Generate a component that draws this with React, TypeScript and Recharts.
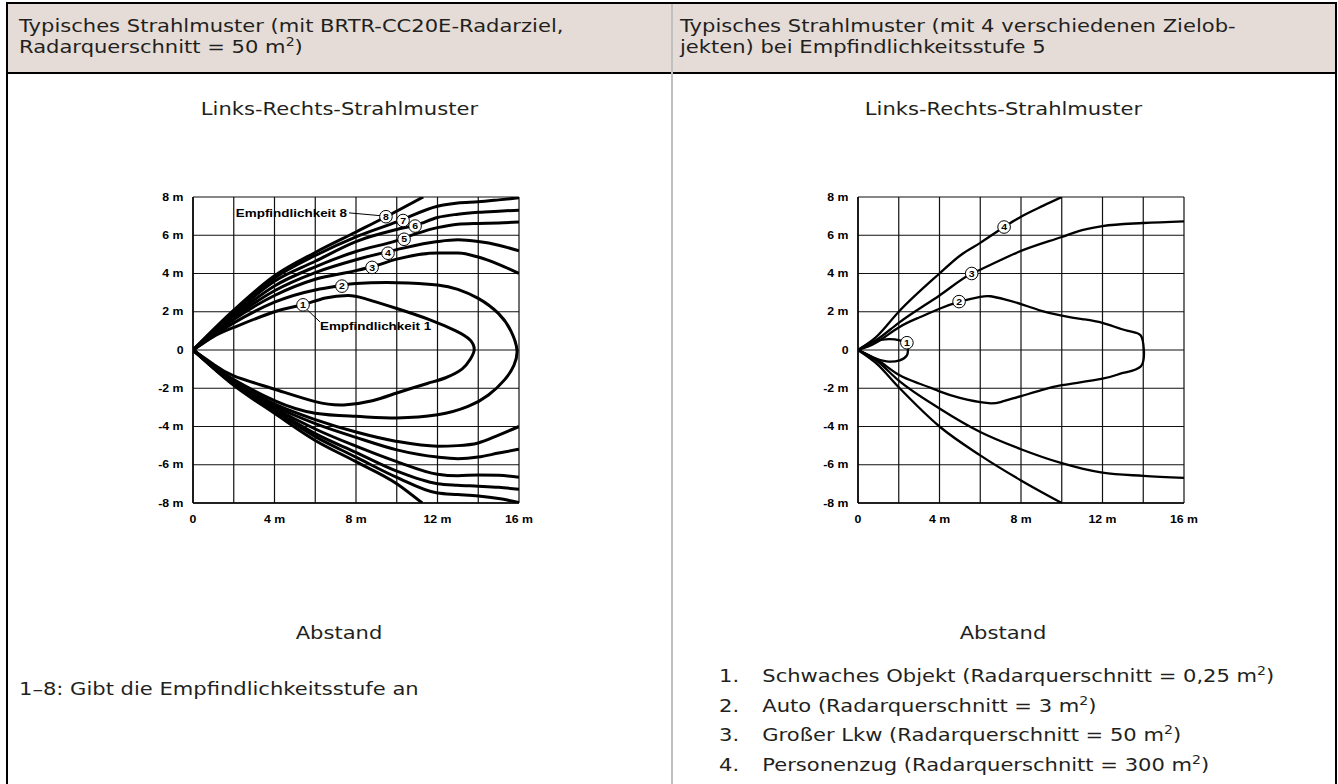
import React from 'react';
import { LineChart, Line, XAxis, YAxis, CartesianGrid, ReferenceDot, ReferenceLine } from 'recharts';

type Pt = { x: number; y: number };
type Mark = { n: number; x: number; y: number };

const xTicks = [0, 2, 4, 6, 8, 10, 12, 14, 16];
const yTicks = [-8, -6, -4, -2, 0, 2, 4, 6, 8];

// left chart: sensitivity levels 1-8 (levels 1 and 2 are closed loops)
const level1: Pt[] = [
  { x: 0, y: 0 }, { x: 1, y: 0.7 }, { x: 2, y: 1.18 }, { x: 4, y: 2.0 }, { x: 5.4, y: 2.37 },
  { x: 6.5, y: 2.72 }, { x: 7.6, y: 2.85 }, { x: 8.4, y: 2.7 }, { x: 10, y: 2.17 },
  { x: 11.6, y: 1.59 }, { x: 12.9, y: 1.0 }, { x: 13.6, y: 0.52 }, { x: 13.8, y: 0 },
  { x: 13.6, y: -0.5 }, { x: 13.2, y: -1.0 }, { x: 12.4, y: -1.45 }, { x: 11.5, y: -1.75 },
  { x: 10, y: -2.25 }, { x: 8.8, y: -2.65 }, { x: 7.4, y: -2.87 }, { x: 6, y: -2.7 },
  { x: 4, y: -2.05 }, { x: 2, y: -1.35 }, { x: 1, y: -0.75 }, { x: 0, y: 0 },
];
const level2: Pt[] = [
  { x: 0, y: 0 }, { x: 1, y: 0.75 }, { x: 2, y: 1.42 }, { x: 4, y: 2.5 }, { x: 6, y: 3.14 },
  { x: 7.3, y: 3.38 }, { x: 8, y: 3.48 }, { x: 10, y: 3.52 }, { x: 12, y: 3.4 }, { x: 13, y: 3.17 },
  { x: 14, y: 2.7 }, { x: 15, y: 1.9 }, { x: 15.6, y: 1.0 }, { x: 15.9, y: 0 }, { x: 15.75, y: -0.8 },
  { x: 15.3, y: -1.55 }, { x: 14.5, y: -2.35 }, { x: 13.5, y: -2.95 }, { x: 12, y: -3.39 },
  { x: 10, y: -3.55 }, { x: 8, y: -3.47 }, { x: 6, y: -3.31 }, { x: 4, y: -2.65 }, { x: 2, y: -1.55 },
  { x: 1, y: -0.85 }, { x: 0, y: 0 },
];
const level3Up: Pt[] = [
  { x: 0, y: 0 }, { x: 2, y: 1.6 }, { x: 4, y: 2.85 }, { x: 6, y: 3.7 }, { x: 8, y: 4.15 }, { x: 9, y: 4.42 },
  { x: 10, y: 4.75 }, { x: 12, y: 5.07 }, { x: 13, y: 5.07 }, { x: 14, y: 4.86 }, { x: 15, y: 4.48 }, { x: 16, y: 4.0 },
];
const level3Down: Pt[] = [
  { x: 0, y: 0 }, { x: 2, y: -1.6 }, { x: 4, y: -2.82 }, { x: 6, y: -3.64 }, { x: 8, y: -4.29 }, { x: 10, y: -4.78 },
  { x: 12, y: -5.03 }, { x: 13, y: -5.0 }, { x: 14, y: -4.86 }, { x: 15, y: -4.45 }, { x: 16, y: -4.0 },
];
const level4Up: Pt[] = [
  { x: 0, y: 0 }, { x: 2, y: 1.7 }, { x: 4, y: 3.1 }, { x: 6, y: 4.05 }, { x: 8, y: 4.72 }, { x: 10, y: 5.25 },
  { x: 12, y: 5.67 }, { x: 13, y: 5.76 }, { x: 14, y: 5.67 }, { x: 15, y: 5.48 }, { x: 16, y: 5.18 },
];
const level4Down: Pt[] = [
  { x: 0, y: 0 }, { x: 2, y: -1.65 }, { x: 4, y: -2.93 }, { x: 6, y: -3.85 }, { x: 8, y: -4.57 }, { x: 10, y: -5.22 },
  { x: 12, y: -5.6 }, { x: 13, y: -5.68 }, { x: 14, y: -5.6 }, { x: 15, y: -5.39 }, { x: 16, y: -5.19 },
];
const level5Up: Pt[] = [
  { x: 0, y: 0 }, { x: 2, y: 1.8 }, { x: 4, y: 3.35 }, { x: 6, y: 4.35 }, { x: 8, y: 5.15 }, { x: 10, y: 5.72 },
  { x: 11, y: 6.1 }, { x: 12, y: 6.4 }, { x: 13, y: 6.58 }, { x: 14, y: 6.62 }, { x: 15, y: 6.64 }, { x: 16, y: 6.69 },
];
const level5Down: Pt[] = [
  { x: 0, y: 0 }, { x: 2, y: -1.7 }, { x: 4, y: -3.03 }, { x: 6, y: -4.13 }, { x: 8, y: -5.03 }, { x: 10, y: -5.84 },
  { x: 12, y: -6.5 }, { x: 13, y: -6.58 }, { x: 14, y: -6.53 }, { x: 15, y: -6.55 }, { x: 16, y: -6.66 },
];
const level6Up: Pt[] = [
  { x: 0, y: 0 }, { x: 2, y: 1.9 }, { x: 4, y: 3.6 }, { x: 6, y: 4.64 }, { x: 8, y: 5.67 }, { x: 10, y: 6.3 },
  { x: 11, y: 6.55 }, { x: 12, y: 6.93 }, { x: 13, y: 7.1 }, { x: 14, y: 7.2 }, { x: 15, y: 7.26 }, { x: 16, y: 7.31 },
];
const level6Down: Pt[] = [
  { x: 0, y: 0 }, { x: 2, y: -1.75 }, { x: 4, y: -3.11 }, { x: 6, y: -4.37 }, { x: 8, y: -5.35 }, { x: 10, y: -6.33 },
  { x: 12, y: -6.99 }, { x: 13, y: -7.07 }, { x: 14, y: -7.12 }, { x: 15, y: -7.18 }, { x: 16, y: -7.28 },
];
const level7Up: Pt[] = [
  { x: 0, y: 0 }, { x: 2, y: 2.0 }, { x: 4, y: 3.76 }, { x: 6, y: 4.94 }, { x: 8, y: 5.92 }, { x: 10, y: 6.7 },
  { x: 12, y: 7.52 }, { x: 13, y: 7.69 }, { x: 14, y: 7.75 }, { x: 15, y: 7.85 }, { x: 16, y: 7.96 },
];
const level7Down: Pt[] = [
  { x: 0, y: 0 }, { x: 2, y: -1.8 }, { x: 4, y: -3.19 }, { x: 6, y: -4.53 }, { x: 8, y: -5.6 }, { x: 10, y: -6.66 },
  { x: 12, y: -7.48 }, { x: 13, y: -7.56 }, { x: 14, y: -7.64 }, { x: 15, y: -7.77 }, { x: 16, y: -7.97 },
];
const level8Up: Pt[] = [
  { x: 0, y: 0 }, { x: 2, y: 2.08 }, { x: 4, y: 3.88 }, { x: 6, y: 5.1 }, { x: 8, y: 6.17 }, { x: 9.5, y: 6.98 }, { x: 11.3, y: 8.0 },
];
const level8Down: Pt[] = [
  { x: 0, y: 0 }, { x: 2, y: -1.85 }, { x: 4, y: -3.31 }, { x: 6, y: -4.73 }, { x: 8, y: -5.84 }, { x: 10, y: -6.99 }, { x: 11.25, y: -8.0 },
];

// right chart: 4 target objects at sensitivity 5
const object1: Pt[] = [
  { x: 0, y: 0 }, { x: 0.5, y: 0.32 }, { x: 0.9, y: 0.48 }, { x: 1.5, y: 0.57 }, { x: 2.05, y: 0.5 },
  { x: 2.4, y: 0.3 }, { x: 2.45, y: 0 }, { x: 2.4, y: -0.28 }, { x: 2.05, y: -0.54 }, { x: 1.4, y: -0.6 },
  { x: 0.75, y: -0.4 }, { x: 0, y: 0 },
];
const object2: Pt[] = [
  { x: 0, y: 0 }, { x: 0.9, y: 0.39 }, { x: 2, y: 1.18 }, { x: 3, y: 1.7 }, { x: 4, y: 2.16 }, { x: 5, y: 2.53 },
  { x: 6, y: 2.78 }, { x: 6.5, y: 2.81 }, { x: 7.2, y: 2.65 }, { x: 8, y: 2.4 }, { x: 9, y: 2.05 }, { x: 10, y: 1.8 },
  { x: 11, y: 1.62 }, { x: 12, y: 1.42 }, { x: 13.2, y: 1.01 }, { x: 13.87, y: 0.77 }, { x: 14.03, y: 0 },
  { x: 13.87, y: -0.87 }, { x: 13, y: -1.2 }, { x: 12, y: -1.5 }, { x: 10, y: -1.84 }, { x: 9, y: -2.1 },
  { x: 8, y: -2.41 }, { x: 7, y: -2.72 }, { x: 6.3, y: -2.77 }, { x: 5, y: -2.5 }, { x: 4, y: -2.16 },
  { x: 3, y: -1.75 }, { x: 2, y: -1.3 }, { x: 1, y: -0.55 }, { x: 0, y: 0 },
];
const object3Up: Pt[] = [
  { x: 0, y: 0 }, { x: 0.9, y: 0.52 }, { x: 2, y: 1.42 }, { x: 4, y: 2.85 }, { x: 5.58, y: 4.0 }, { x: 6, y: 4.2 },
  { x: 8, y: 5.18 }, { x: 10, y: 5.91 }, { x: 11, y: 6.27 }, { x: 12, y: 6.48 }, { x: 14, y: 6.64 }, { x: 16, y: 6.73 },
];
const object3Down: Pt[] = [
  { x: 0, y: 0 }, { x: 0.9, y: -0.55 }, { x: 2, y: -1.6 }, { x: 4, y: -3.06 }, { x: 6, y: -4.29 }, { x: 8, y: -5.19 },
  { x: 10, y: -5.92 }, { x: 11, y: -6.2 }, { x: 12, y: -6.41 }, { x: 14, y: -6.58 }, { x: 16, y: -6.69 },
];
const object4Up: Pt[] = [
  { x: 0, y: 0 }, { x: 0.9, y: 0.69 }, { x: 2, y: 2.0 }, { x: 4, y: 4.0 }, { x: 5, y: 4.93 }, { x: 6, y: 5.6 },
  { x: 7.17, y: 6.43 }, { x: 8, y: 6.97 }, { x: 9.1, y: 7.55 }, { x: 10, y: 8.0 },
];
const object4Down: Pt[] = [
  { x: 0, y: 0 }, { x: 0.9, y: -0.7 }, { x: 2, y: -1.95 }, { x: 4, y: -4.0 }, { x: 6, y: -5.51 }, { x: 8, y: -6.82 }, { x: 10, y: -8.0 },
];

const leftMarks: Mark[] = [
  { n: 1, x: 5.4, y: 2.36 }, { n: 2, x: 7.31, y: 3.34 }, { n: 3, x: 8.79, y: 4.32 }, { n: 4, x: 9.57, y: 5.06 },
  { n: 5, x: 10.36, y: 5.79 }, { n: 6, x: 10.9, y: 6.48 }, { n: 7, x: 10.31, y: 6.77 }, { n: 8, x: 9.47, y: 6.97 },
];
const rightMarks: Mark[] = [
  { n: 1, x: 2.4, y: 0.38 }, { n: 2, x: 4.96, y: 2.53 }, { n: 3, x: 5.58, y: 4.0 }, { n: 4, x: 7.17, y: 6.43 },
];

const loopsLeft = [level1, level2];
const branchesLeft = [level3Up, level3Down, level4Up, level4Down, level5Up, level5Down, level6Up, level6Down, level7Up, level7Down, level8Up, level8Down];
const loopsRight = [object1, object2];
const branchesRight = [object3Up, object3Down, object4Up, object4Down];

const objectNotes = [
  ['Schwaches Objekt (Radarquerschnitt = 0,25 m', ')'],
  ['Auto (Radarquerschnitt = 3 m', ')'],
  ['Großer Lkw (Radarquerschnitt = 50 m', ')'],
  ['Personenzug (Radarquerschnitt = 300 m', ')'],
];

const TEXT_FONT = '"DejaVu Sans", Verdana, sans-serif';
const AXIS_FONT = '"Liberation Sans", Arial, sans-serif';
// the source type is set wide: every text is stretched horizontally
const STRETCH = 1.17;

const fmtX = (v: number) => (v === 0 ? '0' : v % 4 === 0 ? `${v} m` : '');
const fmtY = (v: number) => (v === 0 ? '0' : `${v} m`);

const AxisTick = (axis: 'x' | 'y') => (props: any) => {
  const v = props.payload.value;
  const label = axis === 'x' ? fmtX(v) : fmtY(v);
  if (!label) return null;
  return (
    <g transform={`translate(${props.x},${props.y}) scale(${STRETCH},1)`}>
      <text x={0} y={0} dy={axis === 'x' ? '0.71em' : '0.355em'} textAnchor={axis === 'x' ? 'middle' : 'end'}
        fontSize={10.5} fontWeight="bold" fontFamily={AXIS_FONT} fill="#000">
        {label}
      </text>
    </g>
  );
};

const circled = (n: number) => (props: any) => (
  <g>
    <circle cx={props.cx} cy={props.cy} r={6.3} fill="#fff" stroke="#000" strokeWidth={1} />
    <g transform={`translate(${props.cx},${props.cy}) scale(${STRETCH},1)`}>
      <text x={0} y={3.2} textAnchor="middle" fontSize={9} fontWeight="bold" fontFamily={AXIS_FONT} fill="#000">
        {n}
      </text>
    </g>
  </g>
);

const note = (label: string, anchor: 'start' | 'end') => (props: any) => (
  <g transform={`translate(${props.cx},${props.cy}) scale(${STRETCH},1)`}>
    <text x={0} y={4} textAnchor={anchor} fontSize={11.5} fontWeight="bold" fontFamily={AXIS_FONT} fill="#000">
      {label}
    </text>
  </g>
);

interface BeamProps {
  loops: Pt[][];
  branches: Pt[][];
  marks: Mark[];
  width: number;
  children?: React.ReactNode;
}

function BeamChart({ loops, branches, marks, width, children }: BeamProps) {
  return (
    <LineChart width={420} height={380} margin={{ top: 17, right: 31, left: 13, bottom: 27 }}>
      <CartesianGrid stroke="#111" strokeWidth={1.2} horizontalValues={yTicks} verticalValues={xTicks} />
      <XAxis
        type="number"
        dataKey="x"
        domain={[0, 16]}
        ticks={xTicks}
        allowDataOverflow
        axisLine={{ stroke: '#000', strokeWidth: 1.5 }}
        tickLine={false}
        tickMargin={6.5}
        height={30}
        tick={AxisTick('x')}
      />
      <YAxis
        type="number"
        domain={[-8, 8]}
        ticks={yTicks}
        allowDataOverflow
        axisLine={{ stroke: '#000', strokeWidth: 1.5 }}
        tickLine={false}
        tickMargin={3.5}
        width={50}
        tick={AxisTick('y')}
      />
      {loops.map((d, i) => (
        <Line key={`loop-${i}`} data={d} dataKey="y" type="natural" stroke="#000" strokeWidth={width} dot={false} activeDot={false} isAnimationActive={false} />
      ))}
      {branches.map((d, i) => (
        <Line key={`br-${i}`} data={d} dataKey="y" type="monotone" stroke="#000" strokeWidth={width} dot={false} activeDot={false} isAnimationActive={false} />
      ))}
      {children}
      {marks.map((m) => (
        <ReferenceDot key={`m-${m.n}`} x={m.x} y={m.y} r={6} ifOverflow="visible" shape={circled(m.n)} />
      ))}
    </LineChart>
  );
}

const cellText: React.CSSProperties = { position: 'absolute', fontFamily: TEXT_FONT, fontSize: 18, color: '#231f20', lineHeight: '21px', whiteSpace: 'nowrap' };
const wide: React.CSSProperties = { display: 'inline-block', transform: `scaleX(${STRETCH})`, transformOrigin: '0 0' };
const wideCenter: React.CSSProperties = { display: 'inline-block', transform: `scaleX(${STRETCH})`, transformOrigin: '50% 0' };
const supStyle: React.CSSProperties = { fontSize: 12, lineHeight: 0 };

export default function App() {
  return (
    <div style={{ position: 'absolute', left: 0, top: 0, width: 1338, height: 784, background: '#fff', overflow: 'hidden' }}>
      {/* table frame */}
      <div style={{ position: 'absolute', left: 6, top: 2, width: 1331, height: 72, background: '#e5dcd7', borderTop: '2px solid #000', borderBottom: '2px solid #000', boxSizing: 'border-box' }} />
      <div style={{ position: 'absolute', left: 6, top: 2, width: 2, height: 782, background: '#000' }} />
      <div style={{ position: 'absolute', left: 1335, top: 2, width: 2, height: 782, background: '#000' }} />
      <div style={{ position: 'absolute', left: 671, top: 4, width: 2, height: 780, background: '#c0c0c0' }} />

      <div style={{ ...cellText, left: 19, top: 15 }}>
        <span style={wide}>
          Typisches Strahlmuster (mit BRTR-CC20E-Radarziel,<br />
          Radarquerschnitt = 50 m<sup style={supStyle}>2</sup>)
        </span>
      </div>
      <div style={{ ...cellText, left: 680, top: 15 }}>
        <span style={wide}>
          Typisches Strahlmuster (mit 4 verschiedenen Zielob-<br />
          jekten) bei Empfindlichkeitsstufe 5
        </span>
      </div>

      <div style={{ ...cellText, left: 8, width: 663, top: 98, textAlign: 'center' }}><span style={wideCenter}>Links-Rechts-Strahlmuster</span></div>
      <div style={{ ...cellText, left: 672, width: 663, top: 98, textAlign: 'center' }}><span style={wideCenter}>Links-Rechts-Strahlmuster</span></div>
      <div style={{ ...cellText, left: 8, width: 663, top: 622, textAlign: 'center' }}><span style={wideCenter}>Abstand</span></div>
      <div style={{ ...cellText, left: 672, width: 663, top: 622, textAlign: 'center' }}><span style={wideCenter}>Abstand</span></div>

      <div style={{ ...cellText, left: 19, top: 678 }}><span style={wide}>1–8: Gibt die Empfindlichkeitsstufe an</span></div>
      {objectNotes.map((t, i) => (
        <div key={i} style={{ ...cellText, left: 719, top: 665 + i * 29.5 }}>
          <span style={wide}>
            <span style={{ display: 'inline-block', width: 37 }}>{i + 1}.</span>
            {t[0]}
            <sup style={supStyle}>2</sup>
            {t[1]}
          </span>
        </div>
      ))}

      <div style={{ position: 'absolute', left: 130, top: 180 }}>
        <BeamChart loops={loopsLeft} branches={branchesLeft} marks={leftMarks} width={3}>
          <ReferenceLine segment={[{ x: 7.66, y: 7.17 }, { x: 9.23, y: 7.02 }]} stroke="#000" strokeWidth={1} ifOverflow="visible" />
          <ReferenceLine segment={[{ x: 5.58, y: 2.13 }, { x: 6.23, y: 1.47 }]} stroke="#000" strokeWidth={1} ifOverflow="visible" />
          <ReferenceDot x={7.56} y={7.17} r={0} ifOverflow="visible" shape={note('Empfindlichkeit 8', 'end')} />
          <ReferenceDot x={6.23} y={1.23} r={0} ifOverflow="visible" shape={note('Empfindlichkeit 1', 'start')} />
        </BeamChart>
      </div>
      <div style={{ position: 'absolute', left: 795, top: 180 }}>
        <BeamChart loops={loopsRight} branches={branchesRight} marks={rightMarks} width={2.3} />
      </div>
    </div>
  );
}
